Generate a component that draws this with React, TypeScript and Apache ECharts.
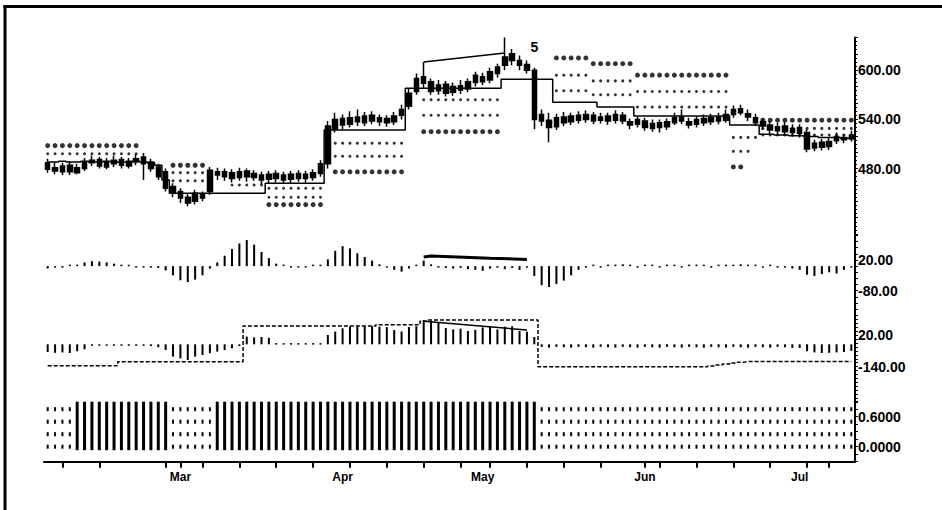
import React, { useEffect, useRef } from 'react';
import * as echarts from 'echarts';

const N = null;
const dayCount = 110;
const categories = Array.from({ length: dayCount }, (_, i) => String(i));
const monthIndex = [18, 40, 59, 81, 102];
const monthNames = ['Mar', 'Apr', 'May', 'Jun', 'Jul'];
const weekTicks = [2, 7, 16, 18, 21, 26, 31, 36, 41, 46, 51, 56, 60, 65, 70, 75, 81, 83, 88, 93, 98, 103, 106];

const opens = [487,481,476,484,475,480,487,491,482,486, 491,483,488,494,488,482,476,458,452,445, 440,448,452,476,470,475,469,477,469,472, 467,474,466,473,468,473,469,474,486,528, 541,534,543,536,545,537,541,537,545,556, 574,592,586,575,583,573,581,577,585,592, 588,596,606,620,612,607,600,546,539,531, 543,537,545,540,545,539,544,539,545,537, 534,538,529,536,531,536,543,537,534,541, 537,543,539,546,553,547,542,537,533,526, 532,524,530,524,505,512,507,514,518,516];
const closes = [479,477,483,476,481,488,490,483,488,490, 484,489,492,486,480,470,456,450,444,438, 450,444,478,472,476,468,476,470,474,466, 473,468,472,467,474,468,475,486,532,540, 533,542,537,544,538,542,536,544,552,572, 590,584,574,582,572,580,576,586,594,586, 598,604,616,612,606,600,540,538,530,542, 536,544,539,546,538,543,538,546,538,533, 540,530,535,530,537,542,538,533,540,536, 542,538,546,552,548,543,536,532,527,531, 525,529,523,504,511,506,513,519,515,521];
const lows = [475,473,472,472,473,477,483,480,479,482, 480,480,484,466,476,466,452,445,438,434, 436,440,448,466,465,463,465,464,465,461, 462,463,462,462,464,463,465,470,480,524, 528,530,532,532,534,532,531,533,540,552, 570,578,570,570,568,569,571,573,580,582, 584,591,600,606,600,596,528,532,512,527, 532,533,535,536,534,535,533,535,534,528, 530,526,525,524,527,533,534,529,530,532, 533,534,536,542,545,538,532,527,522,521, 520,519,518,500,501,502,503,510,511,513];
const highs = [492,488,487,489,486,493,496,494,493,496, 494,493,497,499,492,486,480,462,456,450, 454,452,482,481,480,479,481,480,478,476, 477,478,476,477,478,477,479,490,538,548, 546,550,552,549,550,546,545,549,558,578, 596,610,590,588,587,585,588,590,598,597, 603,608,640,626,618,612,603,552,548,547, 549,548,550,551,549,548,548,551,549,541, 544,542,540,540,541,548,552,542,544,546, 547,548,552,557,558,552,547,541,538,536, 537,534,534,528,515,516,518,524,522,526];

const levelFar = [508,508,508,508,508,508,508,508,508,508, 508,508,508,N,N,N,N,484,484,484, 484,484,N,N,N,N,N,N,N,N, 436,436,436,436,436,436,436,436,N,476, 476,476,476,476,476,476,476,476,476,N, N,525,525,525,525,525,525,525,525,525, 525,525,N,N,N,N,N,N,N,615, 615,615,615,615,608,608,608,608,608,608, 594,594,594,594,594,594,594,594,594,594, 594,594,594,482,482,N,N,539,539,539, 539,539,539,539,539,539,539,539,539,539];
const levelMid = [498,498,498,498,498,498,498,498,498,498, 498,498,498,N,N,N,N,475,475,475, 475,475,N,N,N,N,N,N,N,N, 445,445,445,445,445,445,445,445,N,495, 495,495,495,495,495,495,495,495,495,N, N,545,545,545,545,545,545,545,545,545, 545,545,N,N,N,N,N,N,N,594, 594,594,594,594,587,587,587,587,587,587, 574,574,574,574,574,574,574,574,574,574, 574,574,574,501,501,501,N,529,529,529, 529,529,529,529,529,529,529,529,529,529];
const levelNear = [N,N,N,N,N,N,N,N,N,N, N,N,N,N,N,N,N,465,465,465, 465,465,N,N,N,460,460,460,460,460, 456,456,456,456,456,456,456,456,N,511, 511,511,511,511,511,511,511,511,511,N, N,564,564,564,564,564,564,564,564,564, 564,564,N,N,N,N,N,N,N,575, 575,575,575,575,570,570,570,570,570,570, 555,555,555,555,555,555,555,555,555,555, 555,555,555,518,518,518,518,521,521,521, 521,521,521,521,521,521,521,521,521,521];
const trail = [488,488,489,488,488,489,488,488,489,488, 488,488,489,488,487,484,466,450,450,450, 450,450,450,450,450,450,450,450,450,450, 462,462,462,462,462,462,462,462,527,527, 527,527,527,527,527,527,527,527,527,578, 578,578,578,578,578,578,578,578,578,578, 578,578,589,589,589,589,589,589,589,561, 561,561,561,561,561,555,555,555,555,555, 544,544,544,544,544,544,544,544,544,544, 544,544,544,533,533,533,533,522,522,521, 521,520,520,519,519,518,518,518,517,517];
const trendPoints = [[51, 610], [62, 621]];
const waveLabel = { index: 66, value: 628, text: '5' };

const osc1 = [-8,-3,-2,2,3,12,16,15,12,8, 3,2,-2,-2,-3,-6,-14,-30,-46,-52, -44,-30,-8,12,34,56,74,85,70,46, 26,8,2,-2,-3,-2,2,4,22,50, 65,58,42,30,18,6,-4,-12,-18,-8, 2,18,6,-4,-6,-8,-6,-10,-12,-15, -8,-5,-10,-6,-12,-4,-32,-62,-68,-58, -47,-30,-12,-3,2,-2,3,2,6,2, -2,2,3,-2,2,2,-2,2,3,2, -2,2,3,4,6,3,2,-2,2,-3, -4,-8,-12,-28,-32,-26,-20,-24,-12,-5];
const osc1LinePoints = [[51, 30], [52, 33], [60, 26], [65, 22]];

const osc2Base = -27;
const osc2 = [-66,-70,-68,-71,-62,-52,-32,-33,-31,-33, -32,-34,-32,-33,-36,-42,-56,-89,-98,-106, -89,-81,-72,-64,-56,-47,-36,12,8,10, 6,-21,-21,-21,-21,-21,-21,-21,20,37, 54,62,65,66,64,62,60,45,38,60, 64,96,92,86,55,48,52,40,46,58, 62,48,62,64,40,37,10,-40,-44,-40, -42,-44,-40,-42,-44,-40,-42,-44,-40,-42, -44,-40,-42,-44,-40,-42,-44,-40,-42,-44, -40,-42,-44,-40,-42,-44,-40,-42,-44,-40, -42,-45,-45,-62,-68,-71,-70,-68,-66,-60];
const osc2Env = [-135,-135,-135,-135,-135,-135,-135,-135,-135,-135, -115,-115,-115,-115,-115,-115,-115,-115,-115,-115, -115,-115,-115,-115,-115,-115,-115,66,66,66, 66,66,66,66,66,66,66,66,66,66, 66,66,66,66,66,72,72,72,72,72, 72,90,96,96,96,96,96,96,96,96, 96,96,96,96,96,96,96,-140,-140,-140, -140,-140,-140,-140,-140,-140,-140,-140,-140,-140, -140,-140,-140,-140,-140,-140,-140,-140,-140,-140, -136,-131,-126,-121,-117,-114,-114,-114,-114,-114, -114,-114,-114,-114,-114,-114,-114,-114,-114,-114];
const osc2TrendPoints = [[51, 90], [65, 45]];

const signal = [0,0,0,0,1,1,1,1,1,1, 1,1,1,1,1,1,1,0,0,0, 0,0,0,1,1,1,1,1,1,1, 1,1,1,1,1,1,1,1,1,1, 1,1,1,1,1,1,1,1,1,1, 1,1,1,1,1,1,1,1,1,1, 1,1,1,1,1,1,1,0,0,0, 0,0,0,0,0,0,0,0,0,0, 0,0,0,0,0,0,0,0,0,0, 0,0,0,0,0,0,0,0,0,0, 0,0,0,0,0,0,0,0,0,0];
const sigBarTop = 0.9;
const sigBarBottom = -0.07;
const sigLevels = [0, 0.25, 0.5, 0.75];

const pointsToSeries = (pts: number[][]) => {
  const arr: any[] = categories.map(() => '-');
  pts.forEach(([i, v]) => { arr[i] = v; });
  return arr;
};
const dashMissing = (a: (number | null)[]) => a.map((v) => (v == null ? '-' : v));

const FONT = 'Liberation Sans, Arial, sans-serif';
const labelFmt = (shown: number[], digits: number) => (v: number) =>
  shown.some((s) => Math.abs(s - v) < 1e-6) ? (Math.abs(v) < 1e-9 ? 0 : v).toFixed(digits) : '';

const yAxisBase = (gridIndex: number, min: number, max: number, interval: number, shown: number[], digits: number) => ({
  type: 'value',
  gridIndex,
  position: 'right',
  min,
  max,
  interval,
  axisLine: { show: true, onZero: false, lineStyle: { color: '#000', width: 2 } },
  axisTick: { show: true, inside: false, length: 3, lineStyle: { color: '#000', width: 1 } },
  axisLabel: {
    formatter: labelFmt(shown, digits),
    color: '#000',
    fontSize: 14,
    fontWeight: 'bold',
    fontFamily: FONT,
    margin: 3,
  },
  splitLine: { show: false },
});

const hiddenX = (gridIndex: number) => ({
  type: 'category',
  gridIndex,
  data: categories,
  boundaryGap: true,
  show: false,
  axisLine: { onZero: false },
});

export default function App() {
  const ref = useRef<HTMLDivElement>(null);
  useEffect(() => {
    if (!ref.current) return;
    const chart = echarts.init(ref.current, null, { renderer: 'svg' });
    const option: any = {
      animation: false,
      backgroundColor: '#fff',
      grid: [
        { left: 44, right: 87, top: 37.45, height: 196.65 },
        { left: 44, right: 87, top: 235.44, height: 79.82 },
        { left: 44, right: 87, top: 315.2, height: 87.12 },
        { left: 44, right: 87, top: 401.7, height: 60 },
      ],
      xAxis: [
        hiddenX(0),
        hiddenX(1),
        hiddenX(2),
        {
          type: 'category',
          gridIndex: 3,
          data: categories,
          boundaryGap: true,
          axisLine: { show: true, onZero: false, lineStyle: { color: '#000', width: 2 } },
          axisTick: {
            show: true,
            alignWithLabel: true,
            interval: (i: number) => weekTicks.includes(i),
            length: 6,
            lineStyle: { color: '#000', width: 2 },
          },
          axisLabel: {
            interval: (i: number) => monthIndex.includes(i),
            formatter: (_v: string, i: number) => monthNames[monthIndex.indexOf(i)] || '',
            color: '#000',
            fontSize: 12,
            fontWeight: 'bold',
            fontFamily: FONT,
            margin: 9,
          },
        },
      ],
      yAxis: [
        { ...yAxisBase(0, 400, 640, 20, [480, 540, 600], 2), minorTick: { show: true, splitNumber: 4, length: 2, lineStyle: { color: '#000' } } },
        yAxisBase(1, -160, 100, 20, [20, -80], 2),
        yAxisBase(2, -320, 120, 20, [20, -140], 2),
        yAxisBase(3, -0.3, 0.9, 0.15, [0.6, 0], 4),
      ],
      graphic: [
        { type: 'line', shape: { x1: 3.5, y1: 6.5, x2: 942, y2: 6.5 }, style: { stroke: '#000', lineWidth: 3 } },
        { type: 'line', shape: { x1: 5, y1: 5, x2: 5, y2: 510 }, style: { stroke: '#000', lineWidth: 3 } },
      ],
      series: [
        {
          type: 'candlestick',
          xAxisIndex: 0,
          yAxisIndex: 0,
          barWidth: 5,
          data: opens.map((o, i) => [o, closes[i], lows[i], highs[i]]),
          itemStyle: { color: '#000', color0: '#000', borderColor: '#000', borderColor0: '#000', borderWidth: 1.5 },
        },
        {
          type: 'scatter',
          xAxisIndex: 0,
          yAxisIndex: 0,
          symbol: 'circle',
          symbolSize: 5,
          data: dashMissing(levelFar),
          itemStyle: { color: '#000' },
        },
        {
          type: 'scatter',
          xAxisIndex: 0,
          yAxisIndex: 0,
          symbol: 'circle',
          symbolSize: 3,
          data: dashMissing(levelMid),
          itemStyle: { color: '#000' },
        },
        {
          type: 'scatter',
          xAxisIndex: 0,
          yAxisIndex: 0,
          symbol: 'circle',
          symbolSize: 3,
          data: dashMissing(levelNear),
          itemStyle: { color: '#000' },
        },
        {
          type: 'line',
          xAxisIndex: 0,
          yAxisIndex: 0,
          step: 'middle',
          showSymbol: false,
          data: trail,
          lineStyle: { color: '#000', width: 1.5 },
        },
        {
          type: 'line',
          xAxisIndex: 0,
          yAxisIndex: 0,
          showSymbol: false,
          connectNulls: true,
          data: pointsToSeries(trendPoints),
          lineStyle: { color: '#000', width: 1.5 },
          markPoint: {
            symbol: 'circle',
            symbolSize: 1,
            itemStyle: { color: 'rgba(0,0,0,0)' },
            data: [
              {
                coord: [waveLabel.index, waveLabel.value],
                label: { show: true, position: 'inside', formatter: waveLabel.text, color: '#000', fontSize: 14, fontWeight: 'bold', fontFamily: FONT },
              },
            ],
          },
        },
        {
          type: 'bar',
          xAxisIndex: 1,
          yAxisIndex: 1,
          barWidth: 2,
          barMinHeight: 1.5,
          data: osc1,
          itemStyle: { color: '#000' },
        },
        {
          type: 'line',
          xAxisIndex: 1,
          yAxisIndex: 1,
          showSymbol: false,
          connectNulls: true,
          data: pointsToSeries(osc1LinePoints),
          lineStyle: { color: '#000', width: 3 },
        },
        {
          type: 'custom',
          xAxisIndex: 2,
          yAxisIndex: 2,
          data: osc2.map((v, i) => [i, v]),
          renderItem: (_p: any, api: any) => {
            const i = api.value(0);
            const v = api.value(1);
            const a = api.coord([i, osc2Base]);
            const b = api.coord([i, v]);
            const y = Math.min(a[1], b[1]);
            const h = Math.max(1.5, Math.abs(a[1] - b[1]));
            return { type: 'rect', shape: { x: a[0] - 1, y, width: 2, height: h }, style: { fill: '#000' } };
          },
        },
        {
          type: 'line',
          xAxisIndex: 2,
          yAxisIndex: 2,
          step: 'middle',
          showSymbol: false,
          data: osc2Env,
          lineStyle: { color: '#000', width: 1.5, type: [4, 2] },
        },
        {
          type: 'line',
          xAxisIndex: 2,
          yAxisIndex: 2,
          showSymbol: false,
          connectNulls: true,
          data: pointsToSeries(osc2TrendPoints),
          lineStyle: { color: '#000', width: 1.5 },
        },
        {
          type: 'custom',
          xAxisIndex: 3,
          yAxisIndex: 3,
          data: signal.map((s, i) => [i, s]),
          renderItem: (_p: any, api: any) => {
            const i = api.value(0);
            const s = api.value(1);
            if (s === 1) {
              const t = api.coord([i, sigBarTop]);
              const b = api.coord([i, sigBarBottom]);
              return { type: 'rect', shape: { x: t[0] - 1.5, y: t[1], width: 3, height: b[1] - t[1] }, style: { fill: '#000' } };
            }
            return {
              type: 'group',
              children: sigLevels.map((l) => {
                const p = api.coord([i, l]);
                return { type: 'rect', shape: { x: p[0] - 1, y: p[1] - 2, width: 2, height: 4 }, style: { fill: '#000' } };
              }),
            };
          },
        },
      ],
    };
    chart.setOption(option);
    return () => chart.dispose();
  }, []);
  return <div ref={ref} style={{ position: 'absolute', left: 0, top: 0, width: 942, height: 510, background: '#fff' }} />;
}
